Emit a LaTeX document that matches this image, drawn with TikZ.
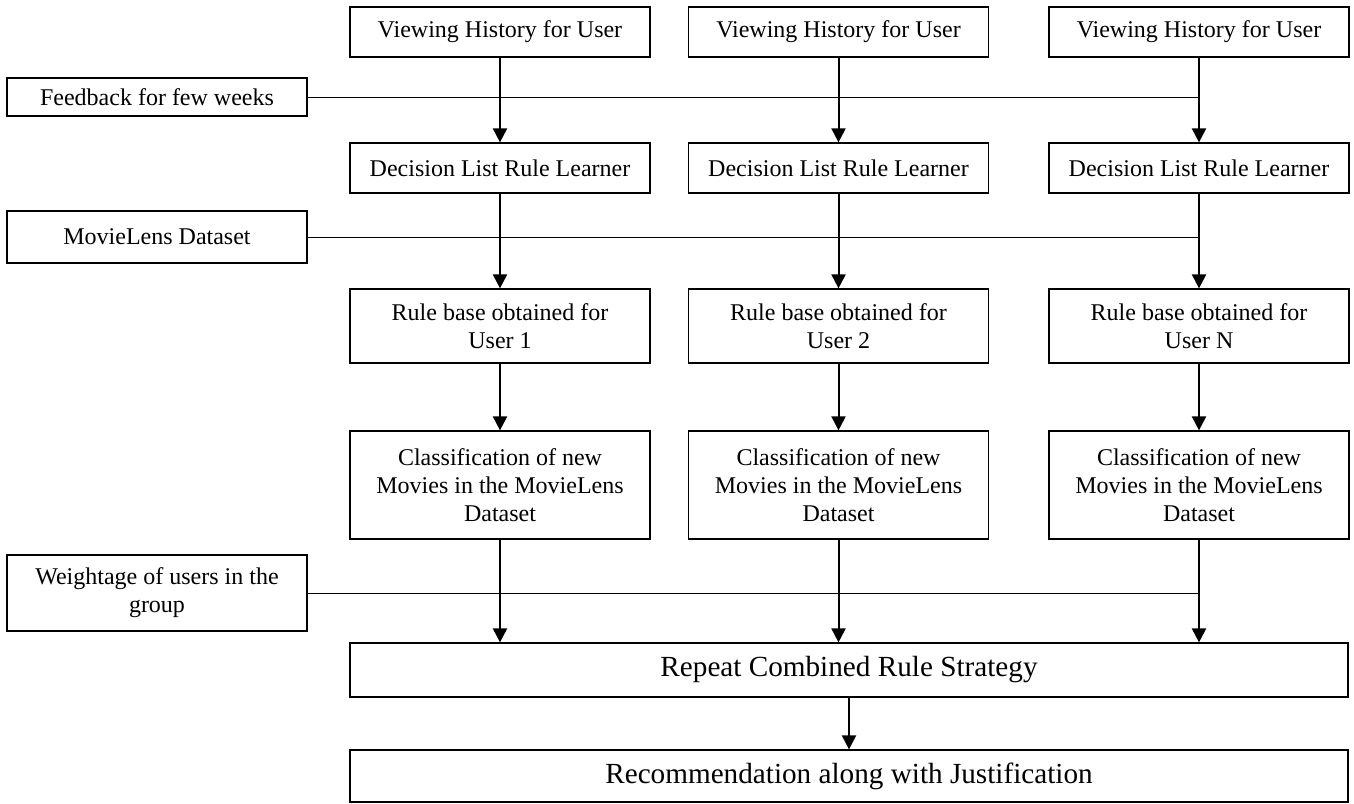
\documentclass[tikz,border=0pt]{standalone}
\usepackage{fontspec}
\setmainfont{Liberation Serif}
\usetikzlibrary{arrows.meta}

\begin{document}
\begin{tikzpicture}[x=0.5pt, y=-0.5pt, >={Triangle[length=7pt,width=7pt]},
    box/.style={draw, line width=0.6pt, inner sep=0pt, align=center, font=\fontsize{12}{14}\selectfont},
    sidebox/.style={box, minimum width=150pt},
    colbox/.style={box, minimum width=150pt},
    widebox/.style={box, minimum width=499pt, font=\fontsize{14.6}{17}\selectfont},
    flow/.style={->, line width=1pt},
    feed/.style={line width=0.5pt}]
    \useasboundingbox (0,0) rectangle (1354,803);

    % Inputs on the left
    \node[sidebox, minimum height=19pt] (feedback) at (157,97) {Feedback for few weeks};
    \node[sidebox, minimum height=26pt] (movielens) at (157,237) {MovieLens Dataset};
    \node[sidebox, minimum height=38pt] (weight) at (157,593) {Weightage of users in the\\group};

    % Combined stages
    \node[widebox, minimum height=27pt] (repeat) at (849,670) {Repeat Combined Rule Strategy};
    \node[widebox, minimum height=26pt] (recom) at (849,776) {Recommendation along with Justification};

    % One column per user
    \foreach \x/\n/\u in {500/1/1, 838.5/2/2, 1199/3/N} {
      \node[colbox, minimum height=25pt] (view\n) at (\x,32) {Viewing History for User};
      \node[colbox, minimum height=25pt] (learn\n) at (\x,168) {Decision List Rule Learner};
      \node[colbox, minimum height=37pt] (rule\n) at (\x,326) {Rule base obtained for\\User \u};
      \node[colbox, minimum height=54pt] (class\n) at (\x,485) {Classification of new\\Movies in the MovieLens\\Dataset};
      \draw[flow] (view\n) -- (learn\n);
      \draw[flow] (learn\n) -- (rule\n);
      \draw[flow] (rule\n) -- (class\n);
      \draw[flow] (class\n) -- (class\n |- repeat.north);
    }

    % Side inputs join the columns
    \draw[feed] (feedback.east) -- (feedback.east -| view3.south);
    \draw[feed] (movielens.east) -- (movielens.east -| view3.south);
    \draw[feed] (weight.east) -- (weight.east -| view3.south);

    \draw[flow] (repeat) -- (recom);
\end{tikzpicture}
\end{document}
